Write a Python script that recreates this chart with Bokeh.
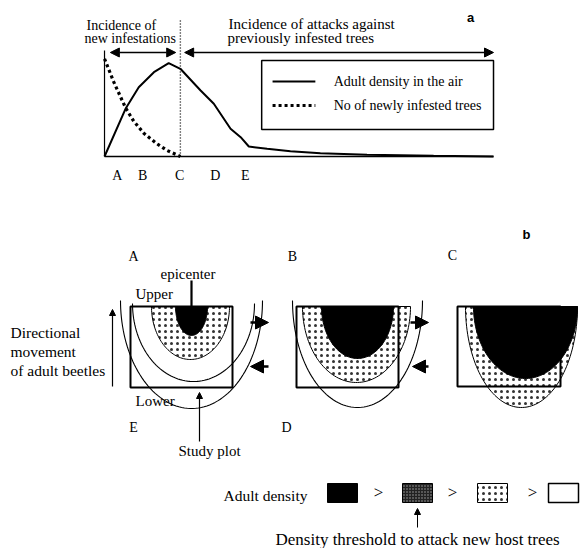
import numpy as np
from bokeh.plotting import figure
from bokeh.layouts import column
from bokeh.models import Range1d, Arrow, NormalHead
from bokeh.core.properties import value
from bokeh.embed import file_html
from bokeh.resources import INLINE

# ---------------- data (panel a) ----------------
time_adult = [0, 5.4, 8.8, 12.7, 16.5, 19.5, 24.7, 28.1, 32.4, 35.0, 37.1, 41.8, 47.8, 55.5, 67.5, 84.6, 100]
adult_density = [0, 47.7, 69.3, 84.3, 93.3, 87.7, 66, 52.7, 27.7, 19.3, 10, 7.7, 5.3, 3.3, 1.7, 0.7, 0]
time_new = [0, 2.4, 5.4, 7.5, 10.1, 13.5, 16.1, 19.5]
new_infested = [97.7, 74.3, 48.7, 35.3, 23.3, 12.7, 6, 0]
phase_labels = ["A", "B", "C", "D", "E"]
phase_times = [3.3, 9.8, 19.3, 28.5, 36.2]
threshold_time = 19.5
legend_labels = ["Adult density in the air", "No of newly infested trees"]

SERIF = value("Liberation Serif")

W = 584
HA = 208
HB = 340

# ---------------- panel a ----------------
pa = figure(width=W, height=HA, output_backend="svg", toolbar_location=None,
            x_range=Range1d(-26.74, 123.39), y_range=Range1d(-52, 156),
            x_axis_type=None, y_axis_type=None, min_border=0,
            outline_line_color=None)
pa.grid.visible = False

# axes lines
pa.line([0, 100], [0, 0], line_color="black", line_width=1.6)
pa.line([0, 0], [0, 106], line_color="black", line_width=1.2)
# curves
pa.line(time_adult, adult_density, line_color="black", line_width=2)
pa.line(time_new, new_infested, line_color="black", line_width=3.2, line_dash="3 3")
# threshold dotted vertical
pa.line([threshold_time, threshold_time], [0, 136], line_color="black", line_width=1.4, line_dash="1 2")
# double arrows
pa.add_layout(Arrow(x_start=1.5, y_start=104, x_end=18.3, y_end=104, line_width=1.4,
                    start=NormalHead(size=9, fill_color="black"), end=NormalHead(size=9, fill_color="black")))
pa.add_layout(Arrow(x_start=20.6, y_start=104, x_end=100, y_end=104, line_width=1.4,
                    start=NormalHead(size=9, fill_color="black"), end=NormalHead(size=9, fill_color="black")))
# legend box
pa.quad(left=[40.4], right=[100], bottom=[27], top=[96], fill_color=None, line_color="black", line_width=1.5)
pa.line([43.2, 54.2], [75, 75], line_color="black", line_width=2)
pa.line([43.2, 54.2], [51, 51], line_color="black", line_width=3.2, line_dash="3 3")
pa.text(x=[58.9, 58.9], y=[75, 51], text=legend_labels, text_font=SERIF, text_font_size="14px",
        text_baseline="middle", text_align="left")
# header texts
pa.text(x=[-4.63, -5.14], y=[131, 118], text=["Incidence of", "new infestations"],
        text_font=SERIF, text_font_size="14px", text_baseline="middle", text_align="left")
pa.text(x=[31.9, 31.6], y=[133, 119], text=["Incidence of attacks against", "previously infested trees"],
        text_font=SERIF, text_font_size="15px", text_baseline="middle", text_align="left")
pa.text(x=[94.1], y=[139], text=["a"], text_font=value("Liberation Sans"), text_font_style="bold",
        text_font_size="13px", text_baseline="middle", text_align="center")
pa.text(x=phase_times, y=[-19] * len(phase_times), text=phase_labels, text_font=SERIF,
        text_font_size="14px", text_baseline="middle", text_align="center")

# ---------------- panel b (schematic) ----------------
pb = figure(width=W, height=HB, output_backend="svg", toolbar_location=None,
            x_range=Range1d(0, W), y_range=Range1d(HA + HB, HA),
            x_axis_type=None, y_axis_type=None, min_border=0,
            outline_line_color=None)
pb.grid.visible = False


def u_shape(cx, a, top, depth, n=80):
    t = np.linspace(-np.pi / 2, np.pi / 2, n)
    return cx + a * np.sin(t), top + depth * np.cos(t)


STIP = dict(hatch_pattern="dot", hatch_color="black", hatch_scale=6, hatch_weight=0.6, hatch_alpha=0.8)


def stipple(xs, ys):
    pb.patch(xs, ys, fill_color="white", line_color="black", line_width=1, **STIP)


def core(xs, ys):
    pb.patch(xs, ys, fill_color="black", line_color="black", line_width=1)


def contour(xs, ys):
    pb.line(xs, ys, line_color="black", line_width=1.1)


def rect(l, r, t, b):
    pb.quad(left=[l], right=[r], top=[t], bottom=[b], fill_color=None, line_color="black", line_width=2)


# Panel A
contour(*u_shape(191, 71, 300, 108))
contour(*u_shape(193, 61, 303, 78))
stipple(*u_shape(190, 39, 306, 53))
core(*u_shape(191, 16, 306, 29))
rect(130, 232, 306, 387)
# Panel B
contour(*u_shape(357, 65, 300, 107))
stipple(*u_shape(356, 54, 306, 76))
core(*u_shape(357, 36, 306, 52))
rect(296, 398, 306, 387)
# Panel C
stipple(*u_shape(521, 56, 306, 101))
core(*u_shape(525, 52, 306, 72))
rect(457, 560, 306, 386)

# epicenter pointer
pb.line([191, 191], [280, 312], line_color="black", line_width=2.2)

# movement arrows
for xs_, xe_, y_ in [(250, 268, 322), (268, 250, 366), (410, 428, 322), (428, 412, 366)]:
    pb.add_layout(Arrow(x_start=xs_, y_start=y_, x_end=xe_, y_end=y_, line_width=2.5,
                        end=NormalHead(size=13, fill_color="black", line_color="black")))
# directional arrow
pb.add_layout(Arrow(x_start=112, y_start=386, x_end=112, y_end=309, line_width=1.2,
                    end=NormalHead(size=6, fill_color="black")))
# study plot arrow
pb.add_layout(Arrow(x_start=199, y_start=441, x_end=199, y_end=392, line_width=1.2,
                    end=NormalHead(size=6, fill_color="black")))

# letters
pb.text(x=[133, 292, 452, 133, 286], y=[256, 256, 255, 427, 427], text=["A", "B", "C", "E", "D"],
        text_font=SERIF, text_font_size="14px", text_baseline="middle", text_align="center")
pb.text(x=[526], y=[234], text=["b"], text_font=value("Liberation Sans"), text_font_style="bold",
        text_font_size="13px", text_baseline="middle", text_align="center")
pb.text(x=[10, 10, 10], y=[332, 351, 370], text=["Directional", "movement", "of adult beetles"],
        text_font=SERIF, text_font_size="15.5px", text_baseline="middle", text_align="left")
pb.text(x=[160, 135, 135, 178], y=[273, 293, 400, 450], text=["epicenter", "Upper", "Lower", "Study plot"],
        text_font=SERIF, text_font_size="15px", text_baseline="middle", text_align="left")

# density legend
pb.text(x=[223], y=[495], text=["Adult density"], text_font=SERIF, text_font_size="15.5px",
        text_baseline="middle", text_align="left")
pb.quad(left=[327], right=[357], top=[483], bottom=[502], fill_color="black", line_color="black")
pb.quad(left=[402], right=[432], top=[483], bottom=[502], fill_color="#222222", line_color="black",
        hatch_pattern="dot", hatch_color="white", hatch_scale=3, hatch_weight=0.8, hatch_alpha=0.6)
pb.quad(left=[477], right=[507], top=[483], bottom=[502], fill_color="white", line_color="black", line_width=1,
        **STIP)
pb.quad(left=[548], right=[578], top=[483], bottom=[502], fill_color="white", line_color="black", line_width=1.5)
pb.text(x=[378, 452, 532], y=[492, 492, 492], text=[">", ">", ">"], text_font=SERIF, text_font_size="17px",
        text_baseline="middle", text_align="center")
pb.add_layout(Arrow(x_start=417, y_start=527, x_end=417, y_end=508, line_width=1,
                    end=NormalHead(size=6, fill_color="black")))
pb.text(x=[275], y=[539], text=["Density threshold to attack new host trees"], text_font=SERIF,
        text_font_size="17px", text_baseline="middle", text_align="left")

layout = column(pa, pb, spacing=0)
open("out.html", "w").write(file_html(layout, INLINE))
